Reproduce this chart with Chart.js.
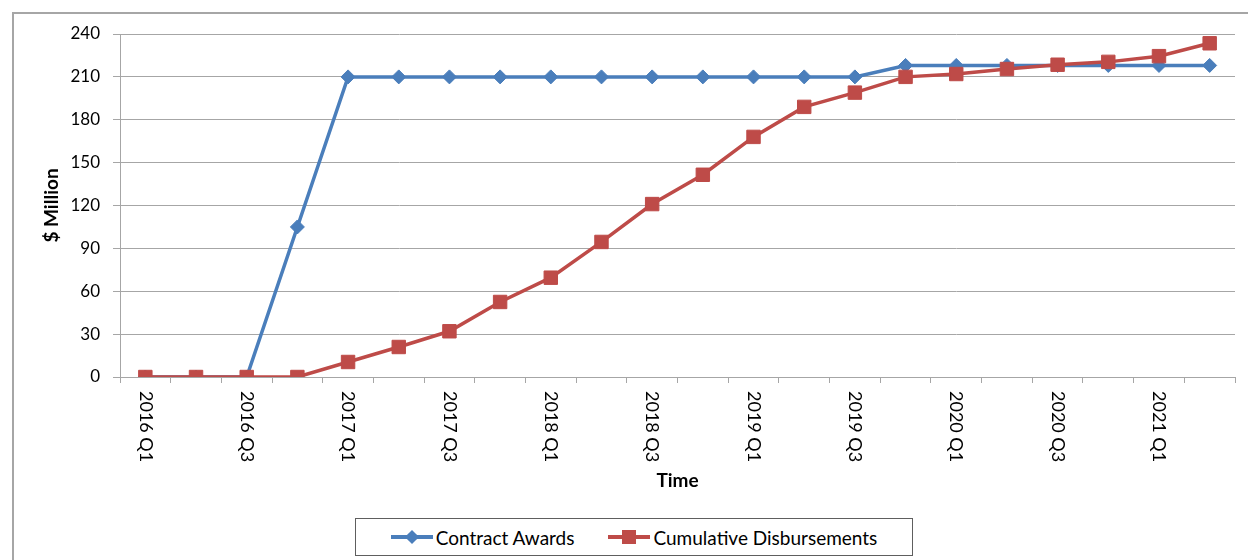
<!DOCTYPE html>
<html>
<head>
<meta charset="utf-8">
<script src="https://cdn.jsdelivr.net/npm/chart.js@4.4.0/dist/chart.umd.min.js"></script>
<style>
  html, body { margin: 0; padding: 0; background: #fff; }
  #wrap { position: relative; width: 1248px; height: 560px; overflow: hidden; }
  #frame { position: absolute; left: 12px; top: 12px; width: 1300px; height: 600px; border: 2px solid #a6a6a6; box-sizing: border-box; }
  #chart { position: absolute; left: 0; top: 0; }
  #legend {
    position: absolute; left: 355px; top: 518px; width: 558px; height: 38px;
    border: 1px solid #5e5e5e; box-sizing: border-box; background: #fff;
    display: flex; align-items: center; justify-content: center;
    font-family: Lato, "Open Sans", sans-serif; font-size: 19px; color: #000;
  }
  .item { display: flex; align-items: center; margin: 0 17px 0 17px; }
  .mark { position: relative; width: 42px; height: 14px; margin-right: 3px; }
  .mark .ln { position: absolute; left: 0; top: 5px; width: 42px; height: 3.5px; }
  .mark .pt { position: absolute; }
  .blue .ln { background: #4a7ebb; }
  .blue .pt { left: 16px; top: 1.5px; width: 10px; height: 10px; background: #4a7ebb; transform: rotate(45deg); }
  .red .ln { background: #be4b48; }
  .red .pt { left: 14px; top: 0px; width: 14px; height: 14px; background: #be4b48; }
</style>
</head>
<body>
<div id="wrap">
  <div id="frame"></div>
  <canvas id="chart" width="1248" height="560"></canvas>
  <div id="legend">
    <div class="item"><div class="mark blue"><div class="ln"></div><div class="pt"></div></div>Contract Awards</div>
    <div class="item"><div class="mark red"><div class="ln"></div><div class="pt"></div></div>Cumulative Disbursements</div>
  </div>
</div>
<script>
// quarters on the x axis
const quarters = [
  "2016 Q1", "2016 Q2", "2016 Q3", "2016 Q4",
  "2017 Q1", "2017 Q2", "2017 Q3", "2017 Q4",
  "2018 Q1", "2018 Q2", "2018 Q3", "2018 Q4",
  "2019 Q1", "2019 Q2", "2019 Q3", "2019 Q4",
  "2020 Q1", "2020 Q2", "2020 Q3", "2020 Q4",
  "2021 Q1", "2021 Q2",
];

// $ million
const contractAwards = [
  0, 0, 0, 105,
  210, 210, 210, 210,
  210, 210, 210, 210,
  210, 210, 210, 218,
  218, 218, 218, 218,
  218, 218,
];

const cumulativeDisbursements = [
  0, 0, 0, 0,
  10.5, 21, 32, 52.5,
  69.5, 94.5, 121, 141.5,
  168, 189, 199, 210,
  212, 215.5, 218.5, 220.5,
  224.5, 233.5,
];

const yTicks = { min: 0, max: 240, step: 30 };

const FONT = "Lato, 'Open Sans', sans-serif";
const GRID = "#a6a6a6";

// x labels read top-to-bottom (rotated clockwise), every other quarter
const verticalLabels = {
  id: "verticalLabels",
  afterDraw(chart) {
    const ctx = chart.ctx;
    const x = chart.scales.x;
    ctx.save();
    ctx.font = "18px " + FONT;
    ctx.fillStyle = "#000";
    ctx.textAlign = "left";
    ctx.textBaseline = "middle";
    quarters.forEach((q, i) => {
      if (i % 2 !== 0) return;
      const px = x.getPixelForValue(i);
      ctx.save();
      ctx.translate(px, 391);
      ctx.rotate(Math.PI / 2);
      ctx.fillText(q, 0, 0);
      ctx.restore();
    });
    ctx.restore();
  },
};

new Chart(document.getElementById("chart"), {
  type: "line",
  data: {
    labels: quarters,
    datasets: [
      {
        label: "Contract Awards",
        data: contractAwards,
        borderColor: "#4a7ebb",
        backgroundColor: "#4a7ebb",
        borderWidth: 3.5,
        pointStyle: "rectRot",
        pointRadius: 7,
        pointBorderWidth: 1,
        order: 1,
      },
      {
        label: "Cumulative Disbursements",
        data: cumulativeDisbursements,
        borderColor: "#be4b48",
        backgroundColor: "#be4b48",
        borderWidth: 3.5,
        pointStyle: "rect",
        pointRadius: 9.5,
        pointBorderWidth: 1,
        order: 0,
      },
    ],
  },
  options: {
    responsive: false,
    animation: false,
    devicePixelRatio: 1,
    events: [],
    layout: { padding: { top: 34, right: 13, left: 0, bottom: 0 } },
    plugins: {
      legend: { display: false },
      tooltip: { enabled: false },
    },
    scales: {
      x: {
        type: "category",
        offset: true,
        afterFit(scale) { scale.height = 183; },
        grid: {
          display: true,
          offset: true,
          drawOnChartArea: false,
          drawTicks: true,
          tickLength: 6,
          color: GRID,
        },
        border: { color: GRID, width: 1 },
        ticks: { display: false, autoSkip: false },
        title: {
          display: true,
          text: "Time",
          color: "#000",
          font: { family: FONT, size: 19, weight: "bold", lineHeight: 1.2 },
          padding: { top: 0, bottom: 68 },
        },
      },
      y: {
        min: yTicks.min,
        max: yTicks.max,
        afterFit(scale) { scale.width = 120; },
        grid: { color: GRID, lineWidth: 1, tickLength: 7, drawTicks: true },
        border: { color: GRID, width: 1 },
        ticks: {
          stepSize: yTicks.step,
          color: "#000",
          padding: 13,
          font: { family: FONT, size: 17 },
        },
        title: {
          display: true,
          text: "$ Million",
          color: "#000",
          font: { family: FONT, size: 19, weight: "bold", lineHeight: 1.2 },
          padding: { top: 40, bottom: 0 },
        },
      },
    },
  },
  plugins: [verticalLabels],
});
</script>
</body>
</html>
